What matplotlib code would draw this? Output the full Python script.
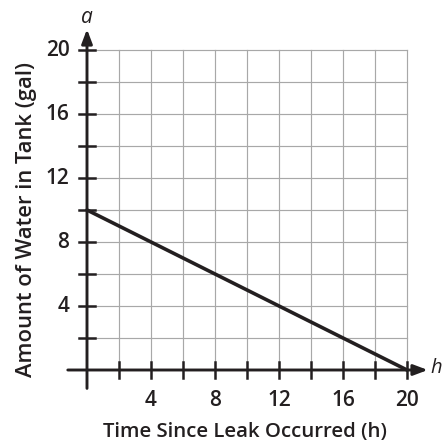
import matplotlib
matplotlib.use("Agg")
import matplotlib.pyplot as plt

# Data
line_h = [0, 20]
line_a = [10, 0]
x_ticks = [4, 8, 12, 16, 20]
y_ticks = [4, 8, 12, 16, 20]
grid_vals = list(range(2, 21, 2))
x_label = "Time Since Leak Occurred (h)"
y_label = "Amount of Water in Tank (gal)"

fig = plt.figure(figsize=(4.42, 4.42), dpi=100)
ax = fig.add_axes([0, 0, 1, 1])
ax.set_xlim(-87 / 16, (442 - 87) / 16)
ax.set_ylim(-72 / 16, 370 / 16)
ax.axis("off")

ink = "#231f20"

# grid
for v in grid_vals:
    ax.plot([v, v], [0, 20], color="#a8a8a8", lw=0.85, zorder=1)
    ax.plot([0, 20], [v, v], color="#a8a8a8", lw=0.85, zorder=1)

# axes with arrows
arrow = dict(arrowstyle="-|>,head_length=0.85,head_width=0.32",
             color=ink, lw=2.1, shrinkA=0, shrinkB=0)
ax.annotate("", xy=(21.3, 0), xytext=(-1.2, 0), arrowprops=arrow, zorder=3)
ax.annotate("", xy=(0, 21.3), xytext=(0, -1.15), arrowprops=arrow, zorder=3)

# ticks
for v in grid_vals:
    ax.plot([v, v], [-0.47, 0.47], color=ink, lw=1.8, zorder=3)
    ax.plot([-0.47, 0.47], [v, v], color=ink, lw=1.8, zorder=3)

# data line
ax.plot(line_h, line_a, color=ink, lw=2.6, zorder=4, solid_capstyle="round")

fam = ["Open Sans", "DejaVu Sans"]
for v in x_ticks:
    ax.text(v, -1.875, str(v), ha="center", va="center", fontsize=15,
            family=fam, weight="semibold", color=ink)
for v in y_ticks:
    ax.text(-1.1, v, str(v), ha="right", va="center", fontsize=15,
            family=fam, weight="semibold", color=ink)

ax.text(9.875, -4.19, x_label, ha="center", va="baseline", fontsize=14.7,
        family=fam, weight="semibold", color=ink)
ax.text(-3.81, 9.41, y_label, ha="center", va="center", fontsize=15.8,
        family=fam, weight="semibold", color=ink, rotation=90)

ax.text(0, 22.05, "a", ha="center", va="center", fontsize=15,
        family=fam, style="italic", weight="medium", color=ink)
ax.text(21.45, 0.1, "h", ha="left", va="center", fontsize=14.5,
        family=fam, style="italic", weight="medium", color=ink)

fig.savefig("out.png", dpi=100)
